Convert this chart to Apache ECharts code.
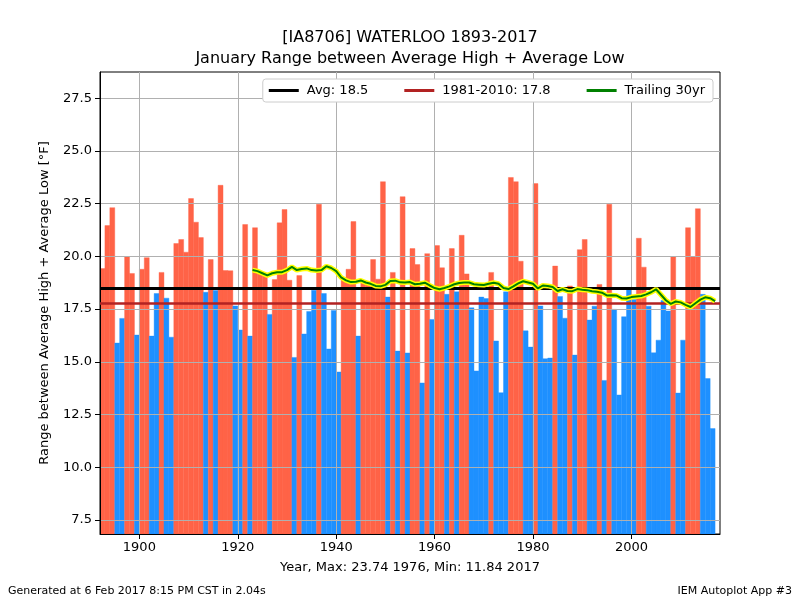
<!DOCTYPE html>
<html>
<head>
<meta charset="utf-8">
<script src="https://cdn.jsdelivr.net/npm/echarts@6/dist/echarts.min.js"></script>
<style>
  html, body { margin: 0; padding: 0; background: #fff; }
  #chart { width: 800px; height: 600px; }
</style>
</head>
<body>
<div id="chart"></div>
<script>
// January range (avg high - avg low), one value per year from 1893
const firstYear = 1893;
const rangeValues = [
  19.42, 21.46, 22.31, 15.89, 17.06, 19.98, 19.19, 16.27,               // 1893-1900
  19.39, 19.94, 16.22, 18.24, 19.24, 18.02, 16.17, 20.61, 20.80, 20.20, // 1901-1910
  22.74, 21.62, 20.89, 18.30, 19.85, 18.38, 23.37, 19.33, 19.32, 17.65, // 1911-1920
  16.51, 21.51, 16.22, 21.36, 19.25, 19.20, 17.25, 18.90, 21.59, 22.22, // 1921-1930
  18.87, 15.21, 19.09, 16.32, 17.39, 18.40, 22.47, 18.24, 15.61, 17.44, // 1931-1940
  14.52, 19.00, 19.39, 21.65, 16.22, 18.80, 18.70, 19.85, 18.92, 23.54, // 1941-1950
  18.07, 19.24, 15.51, 22.83, 15.42, 20.37, 19.61, 14.00, 20.13, 17.01, // 1951-1960
  20.51, 19.46, 18.20, 20.37, 18.32, 21.00, 19.17, 17.56, 14.57, 18.07, // 1961-1970
  18.00, 19.24, 15.99, 13.54, 18.32, 23.74, 23.54, 19.77, 16.47, 15.70, // 1971-1980
  23.45, 17.65, 15.15, 15.18, 19.54, 18.10, 17.07, 18.60, 15.32, 20.32, // 1981-1990
  20.80, 16.98, 17.64, 18.67, 14.12, 22.47, 17.49, 13.43, 17.14, 18.44, // 1991-2000
  17.96, 20.86, 19.49, 17.64, 15.43, 16.03, 17.91, 17.41, 19.97, 13.52, // 2001-2010
  16.03, 21.36, 19.98, 22.26, 18.20, 14.21, 11.84                       // 2011-2017
];

// trailing 30 year average, from 1923
const trailingStart = 1923;
const trailingValues = [
  19.35, 19.30, 19.20, 19.10, 19.20, 19.25, 19.25, 19.35,               // 1923-1930
  19.50, 19.35, 19.40, 19.43, 19.35, 19.33, 19.35, 19.53, 19.45, 19.30, // 1931-1940
  19.00, 18.86, 18.78, 18.80, 18.86, 18.76, 18.70, 18.60, 18.58, 18.65, // 1941-1950
  18.83, 18.85, 18.77, 18.76, 18.78, 18.68, 18.70, 18.75, 18.62, 18.50, // 1951-1960
  18.44, 18.50, 18.58, 18.68, 18.74, 18.76, 18.76, 18.68, 18.66, 18.64, // 1961-1970
  18.70, 18.75, 18.70, 18.50, 18.45, 18.58, 18.72, 18.82, 18.76, 18.70, // 1971-1980
  18.48, 18.62, 18.60, 18.55, 18.36, 18.44, 18.36, 18.35, 18.45, 18.42, // 1981-1990
  18.40, 18.35, 18.32, 18.28, 18.15, 18.16, 18.14, 18.02, 18.00, 18.07, // 1991-2000
  18.10, 18.12, 18.20, 18.30, 18.44, 18.18, 17.92, 17.75, 17.86, 17.82, // 2001-2010
  17.70, 17.60, 17.78, 17.95, 18.06, 18.02, 17.88                       // 2011-2017
];

const avgValue = 18.5;
const climoValue = 17.76;
const xTicks = [1900, 1920, 1940, 1960, 1980, 2000];
const yTicks = [7.5, 10, 12.5, 15, 17.5, 20, 22.5, 25, 27.5];
const xMin = 1892, xMax = 2018;
const yMin = 6.84, yMax = 28.74;

const barData = rangeValues.map((v, i) => [firstYear + i, v]);
const trailingData = trailingValues.map((v, i) => [trailingStart + i, v]);

const avgName = 'Avg: ' + avgValue.toFixed(1);
const climoName = '1981-2010: ' + climoValue.toFixed(1);
const trailName = 'Trailing 30yr';

const font = 'DejaVu Sans';
const chart = echarts.init(document.getElementById('chart'));

chart.setOption({
  animation: false,
  textStyle: { fontFamily: font },
  grid: {
    left: 100, right: 80, top: 72, bottom: 66,
    show: true, borderColor: '#000', borderWidth: 1
  },
  legend: {
    right: 87, top: 79,
    backgroundColor: '#fff', borderColor: '#cccccc', borderWidth: 1, borderRadius: 3,
    padding: [5, 8, 5, 6],
    itemWidth: 30, itemHeight: 3, itemGap: 36,
    textStyle: { fontFamily: font, fontSize: 13, color: '#000', padding: [0, 0, 0, 3] },
    data: [
      { name: avgName, icon: 'rect' },
      { name: climoName, icon: 'rect' },
      { name: trailName, icon: 'rect' }
    ]
  },
  xAxis: {
    type: 'value', min: xMin, max: xMax, z: 3,
    name: 'Year, Max: 23.74 1976, Min: 11.84 2017',
    nameLocation: 'middle', nameGap: 27,
    nameTextStyle: { fontFamily: font, fontSize: 13, color: '#000' },
    axisLine: { show: true, onZero: false, lineStyle: { color: '#000', width: 1 } },
    axisTick: { show: true, customValues: xTicks, length: 5, lineStyle: { color: '#000' } },
    axisLabel: { customValues: xTicks, color: '#000', fontSize: 13, margin: 7, fontFamily: font,
      formatter: v => String(v) },
    splitLine: { show: true, lineStyle: { color: '#b0b0b0', width: 1 } }
  },
  yAxis: {
    type: 'value', min: yMin, max: yMax, z: 3,
    name: 'Range between Average High + Average Low [°F]',
    nameLocation: 'middle', nameGap: 49, nameRotate: 90,
    nameTextStyle: { fontFamily: font, fontSize: 13, color: '#000' },
    axisLine: { show: true, onZero: false, lineStyle: { color: '#000', width: 1 } },
    axisTick: { show: true, customValues: yTicks, length: 5, lineStyle: { color: '#000' } },
    axisLabel: { customValues: yTicks, color: '#000', fontSize: 13, margin: 8, fontFamily: font,
      formatter: v => v.toFixed(1) },
    splitLine: { show: true, lineStyle: { color: '#b0b0b0', width: 1 } }
  },
  graphic: [
    { type: 'text', x: 410, y: 38, style: { text: '[IA8706] WATERLOO 1893-2017', fontFamily: font, fontSize: 16, fill: '#000', align: 'center', verticalAlign: 'middle' } },
    { type: 'text', x: 410, y: 59, style: { text: 'January Range between Average High + Average Low', fontFamily: font, fontSize: 16, fill: '#000', align: 'center', verticalAlign: 'middle' } },
    { type: 'text', x: 8, y: 591, style: { text: 'Generated at 6 Feb 2017 8:15 PM CST in 2.04s', fontFamily: font, fontSize: 11, fill: '#000', align: 'left', verticalAlign: 'middle' } },
    { type: 'text', x: 792, y: 591, style: { text: 'IEM Autoplot App #3', fontFamily: font, fontSize: 11, fill: '#000', align: 'right', verticalAlign: 'middle' } }
  ],
  series: [
    {
      name: 'Range',
      type: 'custom',
      z: 2,
      clip: true,
      encode: { x: 0, y: 1 },
      data: barData,
      renderItem: (params, api) => {
        const year = api.value(0);
        const v = api.value(1);
        const top = api.coord([year - 1, v]);
        const base = api.coord([year, yMin]);
        const color = v >= avgValue ? '#ff6347' : '#1e90ff';
        return {
          type: 'rect',
          shape: { x: top[0], y: top[1], width: base[0] - top[0], height: base[1] - top[1] },
          style: { fill: color, stroke: color, lineWidth: 0.4 }
        };
      }
    },
    {
      name: avgName, type: 'line', data: [], z: 5,
      itemStyle: { color: '#000' }, lineStyle: { color: '#000' },
      markLine: {
        silent: true, symbol: ['none', 'none'], label: { show: false },
        lineStyle: { color: '#000', width: 3, type: 'solid' },
        data: [{ yAxis: avgValue }]
      }
    },
    {
      name: climoName, type: 'line', data: [], z: 5,
      itemStyle: { color: '#b22222' }, lineStyle: { color: '#b22222' },
      markLine: {
        silent: true, symbol: ['none', 'none'], label: { show: false },
        lineStyle: { color: '#b22222', width: 2.5, type: 'solid' },
        data: [{ yAxis: climoValue }]
      }
    },
    {
      name: 'trailing outline', type: 'line', data: trailingData, z: 6,
      symbol: 'none', silent: true,
      lineStyle: { color: '#ffff00', width: 5 }
    },
    {
      name: trailName, type: 'line', data: trailingData, z: 7,
      symbol: 'none', silent: true,
      itemStyle: { color: '#008000' },
      lineStyle: { color: '#008000', width: 2 }
    }
  ]
});
</script>
</body>
</html>
